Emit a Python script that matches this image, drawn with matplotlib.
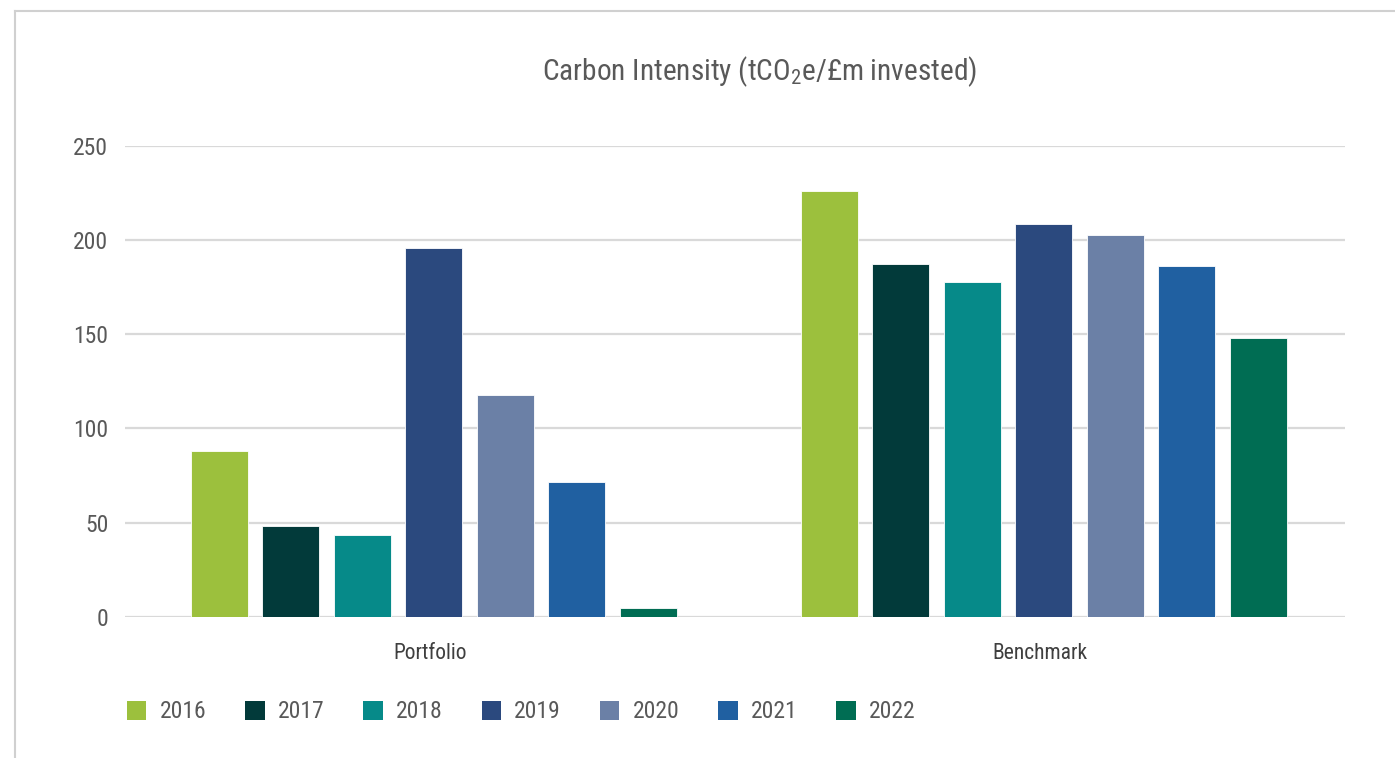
import matplotlib
matplotlib.use("Agg")
import matplotlib.pyplot as plt
from matplotlib.patches import Patch
from matplotlib.lines import Line2D
from matplotlib import font_manager
import numpy as np

categories = ["Portfolio", "Benchmark"]
years = ["2016", "2017", "2018", "2019", "2020", "2021", "2022"]
portfolio = [88.0, 48.3, 43.4, 195.6, 117.7, 71.7, 4.5]
benchmark = [226.0, 187.1, 177.9, 208.5, 202.7, 186.4, 148.1]
colors = ["#9cc03d", "#023a3a", "#068a89", "#2b497e", "#6b80a6", "#2060a1", "#006d53"]
yticks = [0, 50, 100, 150, 200, 250]

names = {f.name for f in font_manager.fontManager.ttflist}
font = "DejaVu Sans"
for cand in ["Roboto Condensed", "Liberation Sans Narrow", "Arial Narrow",
             "Open Sans Condensed", "Liberation Sans"]:
    if cand in names:
        font = cand
        break
plt.rcParams["font.family"] = [font, "DejaVu Sans"]
plt.rcParams["mathtext.fontset"] = "custom"
plt.rcParams["mathtext.rm"] = font
plt.rcParams["mathtext.it"] = font

txt = "#595959"
fig = plt.figure(figsize=(13.95, 7.58), dpi=100)
ax = fig.add_axes([125 / 1395, 1 - 616.7 / 758, (1345 - 125) / 1395, (616.7 - 145.8) / 758])

n = len(years)
slot = 0.1172
bw = 0.0934
shift = 0.006
x = np.arange(len(categories))
for i, (yr, c) in enumerate(zip(years, colors)):
    vals = [portfolio[i], benchmark[i]]
    ax.bar(x + shift - slot * n / 2 + slot * (i + 0.5), vals, width=bw, color=c, zorder=3,
           edgecolor="white", linewidth=0.6)

ax.set_xlim(-0.5, 1.5)
ax.set_ylim(0, 250)
ax.set_yticks(yticks)
ax.set_yticklabels([str(t) for t in yticks], fontsize=17, color=txt)
ax.tick_params(axis="y", length=0, pad=12)
ax.set_xticks(x)
ax.set_xticklabels(categories, fontsize=15.5, color="#3f3f3f")
ax.tick_params(axis="x", length=0, pad=19)
ax.yaxis.grid(True, color="#d9d9d9", linewidth=1.6, zorder=0)
for s in ax.spines.values():
    s.set_visible(False)

fig.text(760 / 1395, 1 - 72 / 758, "Carbon Intensity (tCO$_\\mathrm{2}$e/£m invested)",
         ha="center", va="center", fontsize=21.2, color=txt)

handles = [Patch(facecolor=c, edgecolor="none") for c in colors]
fig.legend(handles, years, loc="center left", bbox_to_anchor=(127 / 1395, 1 - 712 / 758),
           ncol=n, frameon=False, fontsize=17, handlelength=0.82, handleheight=0.9,
           handletextpad=0.56, columnspacing=1.65, borderpad=0, borderaxespad=0,
           labelcolor=txt)

fig.add_artist(Line2D([15 / 1395, 15 / 1395], [0, 1 - 11 / 758], transform=fig.transFigure,
                      color="#d0d0d0", linewidth=1.5))
fig.add_artist(Line2D([15 / 1395, 1], [1 - 11 / 758, 1 - 11 / 758], transform=fig.transFigure,
                      color="#d0d0d0", linewidth=1.5))

fig.savefig("out.png", dpi=100, facecolor="white")
